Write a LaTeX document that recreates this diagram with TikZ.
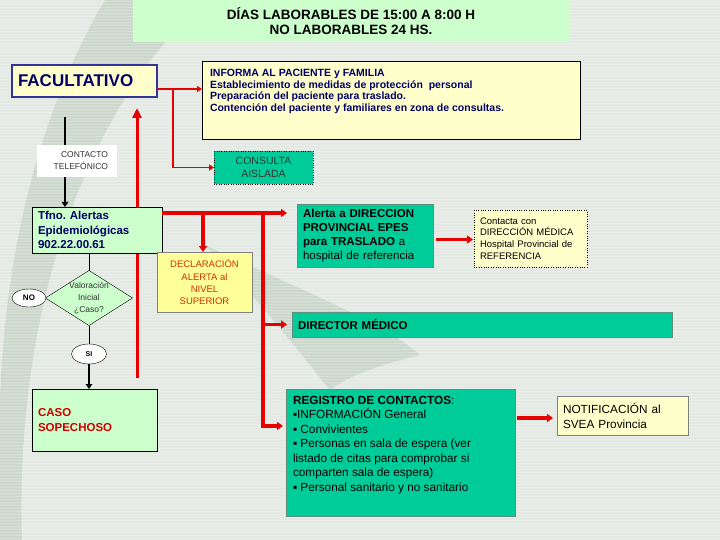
\documentclass[tikz,border=0pt]{standalone}
\usepackage{fontspec}
\setmainfont{Liberation Sans}
\usetikzlibrary{arrows.meta,positioning,shapes.geometric}
\pgfdeclarelayer{deco}
\pgfdeclarelayer{wires}
\pgfsetlayers{deco,wires,main}
\definecolor{slidebg}{HTML}{E4E9E4}
\definecolor{slidedeco}{HTML}{CCD8CC}
\definecolor{titlegreen}{HTML}{CCFFCC}
\definecolor{palegreen}{HTML}{CCFFCC}
\definecolor{paleyellow}{HTML}{FFFFCC}
\definecolor{brightyellow}{HTML}{FFFF99}
\definecolor{tealfill}{HTML}{00CC99}
\definecolor{tealedge}{HTML}{5F8F7F}
\definecolor{facublue}{HTML}{333399}
\definecolor{navyink}{HTML}{000066}
\definecolor{casored}{HTML}{CC0000}
\definecolor{declared}{HTML}{CC3300}
\definecolor{arrowred}{HTML}{E60000}
\newcommand{\setfs}[2]{\fontsize{#1}{#2}\selectfont}

\begin{document}
\begin{tikzpicture}[
    x=1pt, y=-1pt,
    every node/.style={inner sep=0pt, outer sep=0pt},
    box/.style={draw, anchor=north west, align=left},
    yellowbox/.style={box, fill=paleyellow},
    greenbox/.style={box, fill=palegreen},
    tealbox/.style={box, draw=tealedge, fill=tealfill},
    decision/.style={diamond, draw, fill=palegreen, minimum width=87pt, minimum height=55pt},
    answer/.style={ellipse, draw, fill=white},
    thinred/.style={draw=arrowred, line width=1.6pt, -{Triangle[length=5pt,width=6pt]}},
    thickred/.style={draw=arrowred, line width=3.3pt, -{Triangle[length=6pt,width=8pt]}},
    thinblack/.style={draw=black, line width=0.8pt},
    blackline/.style={draw=black, line width=2.4pt, -{Triangle[length=5pt,width=6.5pt]}}
]
\useasboundingbox (0,0) rectangle (720,540);

% slide background
\begin{pgfonlayer}{deco}
\fill[slidebg] (0,0) rectangle (720,540);
\fill[slidedeco] (105,0) .. controls (40,110) and (5,250) .. (0,400) -- (0,540) -- (22,540)
    .. controls (15,330) and (75,120) .. (205,0) -- cycle;
\fill[slidedeco] (205,245) .. controls (300,290) and (380,320) .. (420,355)
    .. controls (380,365) and (350,375) .. (330,390) .. controls (290,340) and (250,290) .. cycle;
\foreach \y in {1.5,4.5,...,540}
    \draw[white, opacity=.25, line width=1pt] (0,\y) -- (720,\y);
\end{pgfonlayer}

% boxes
\node[box, draw=none, fill=titlegreen, minimum width=436pt, minimum height=42pt, align=center,
    font=\bfseries\setfs{13.5}{15}] (horario) at (133,0) {DÍAS LABORABLES DE 15:00 A 8:00 H\\NO LABORABLES 24 HS.};
\node[yellowbox, draw=facublue, line width=2pt, minimum width=145pt, minimum height=32pt, text width=133pt,
    inner xsep=6pt, font=\bfseries\setfs{17}{18}, text=navyink] (facultativo) at (12,65) {FACULTATIVO};
\node[yellowbox, minimum width=378pt, minimum height=78pt,
    label={[anchor=north west, xshift=8pt, yshift=-8pt, align=left, font=\bfseries\setfs{10.5}{11.7}, text=navyink]north west:
    INFORMA AL PACIENTE y FAMILIA\\Establecimiento de medidas de protección\ \ personal\\Preparación del paciente para traslado.\\Contención del paciente y familiares en zona de consultas.}] (informa) at (202,61) {};
\node[tealbox, draw=black, dotted, minimum width=99pt, minimum height=33pt, align=center,
    font=\setfs{10.5}{13.5}, text=black!80] (consulta) at (214,151) {CONSULTA\\AISLADA};
\node[greenbox, minimum width=130pt, minimum height=46pt, text width=118pt, inner xsep=6pt,
    font=\bfseries\setfs{11.5}{14.4}, text=navyink] (tfno) at (32,207) {Tfno.\ Alertas\\Epidemiológicas\\902.22.00.61};
\node[decision, label={[align=center, font=\setfs{8.5}{11.7}, text=black!80]center:Valoración\\Inicial\\¿Caso?}] (valoracion) at (89,298) {};
\node[answer, minimum width=34pt, minimum height=18pt, font=\bfseries\setfs{8}{9}] (no) at (29,298) {NO};
\node[answer, minimum width=35pt, minimum height=20pt, font=\bfseries\setfs{7}{8}] (si) at (89,354) {SI};
\node[greenbox, minimum width=125pt, minimum height=62pt, text width=113pt, inner xsep=6pt,
    font=\bfseries\setfs{11.5}{14.3}, text=casored] (caso) at (32,389) {CASO\\SOPECHOSO};
\node[box, draw=gray, fill=brightyellow, minimum width=95pt, minimum height=60pt, align=center,
    font=\setfs{9.5}{12.1}, text=declared] (declaracion) at (157,252) {DECLARACIÓN\\ALERTA al\\NIVEL\\SUPERIOR};
\node[tealbox, minimum width=136pt, minimum height=63pt, text width=124pt, inner xsep=6pt,
    font=\setfs{11.5}{14.2}] (alerta) at (297,204) {\textbf{Alerta a DIRECCION}\\\textbf{PROVINCIAL EPES}\\\textbf{para TRASLADO} a\\hospital de referencia};
\node[yellowbox, dotted, minimum width=113pt, minimum height=57pt, text width=101pt, inner xsep=6pt,
    font=\setfs{9.5}{11.8}] (contacta) at (474,210) {Contacta con\\DIRECCIÓN MÉDICA\\Hospital Provincial de\\REFERENCIA};
\node[tealbox, minimum width=380pt, minimum height=25pt, text width=368pt, inner xsep=6pt,
    font=\bfseries\setfs{11.5}{13}] (director) at (292,312) {DIRECTOR MÉDICO};
\node[tealbox, minimum width=229pt, minimum height=127pt,
    label={[anchor=north west, xshift=7pt, yshift=-7pt, align=left, font=\setfs{11.8}{14.5}]north west:
    \textbf{REGISTRO DE CONTACTOS}:\\▪INFORMACIÓN General\\▪ Convivientes\\▪ Personas en sala de espera (ver\\listado de citas para comprobar si\\comparten sala de espera)\\▪ Personal sanitario y no sanitario}] (registro) at (286,389) {};
\node[yellowbox, draw=gray, minimum width=131pt, minimum height=39pt, text width=119pt, inner xsep=6pt,
    font=\setfs{11.8}{15}] (notificacion) at (557,396) {NOTIFICACIÓN al\\SVEA Provincia};

% lines hidden behind boxes
\begin{pgfonlayer}{wires}
\coordinate (phonetop) at (65,117);
\draw[blackline] (phonetop) -- (phonetop |- tfno.north);
\coordinate (loopfoot) at (137,378);
\draw[thickred, line width=3pt, -{Triangle[length=10pt,width=9pt]}] (loopfoot) -- ([yshift=-11pt]facultativo.south -| loopfoot);
\end{pgfonlayer}
\node[anchor=north west, fill=white, minimum width=80pt, minimum height=32pt, text width=62pt, inner xsep=9pt,
    align=right, font=\setfs{8.5}{12}, text=black!80] (contacto) at (37,145) {CONTACTO\\TELEFÓNICO};

% connectors
\coordinate (facufork) at (173,89);
\draw[thinred] (facufork -| facultativo.east) -- (facufork -| informa.west);
\draw[thinred] (facufork) |- (consulta.west);
\draw[thinblack] (tfno.south -| valoracion.north) -- (valoracion.north);
\draw[thinblack] (valoracion.south) -- (si.north);
\draw[blackline] (si.south) -- (caso.north -| si.south);
\coordinate (alertfork) at (203,213);
\coordinate (rail) at (263,213);
\coordinate (registrojoin) at (263,426);
\draw[thickred] (alertfork -| tfno.east) -- ([xshift=-10pt]alertfork -| alerta.west);
\draw[thickred] (alertfork) -- (alertfork |- declaracion.north);
\draw[thickred] (rail) -- (registrojoin) -- ([xshift=-3pt]registrojoin -| registro.west);
\draw[thickred] (rail |- director.west) -- ([xshift=-5pt]director.west);
\draw[thickred] ([xshift=3pt,yshift=-4pt]alerta.east) -- ([xshift=-1pt,yshift=-4pt]alerta.east -| contacta.west);
\draw[thickred] ([xshift=2pt]registro.east |- 0,418) -- ([xshift=-4pt]notificacion.west |- 0,418);
\end{tikzpicture}
\end{document}
